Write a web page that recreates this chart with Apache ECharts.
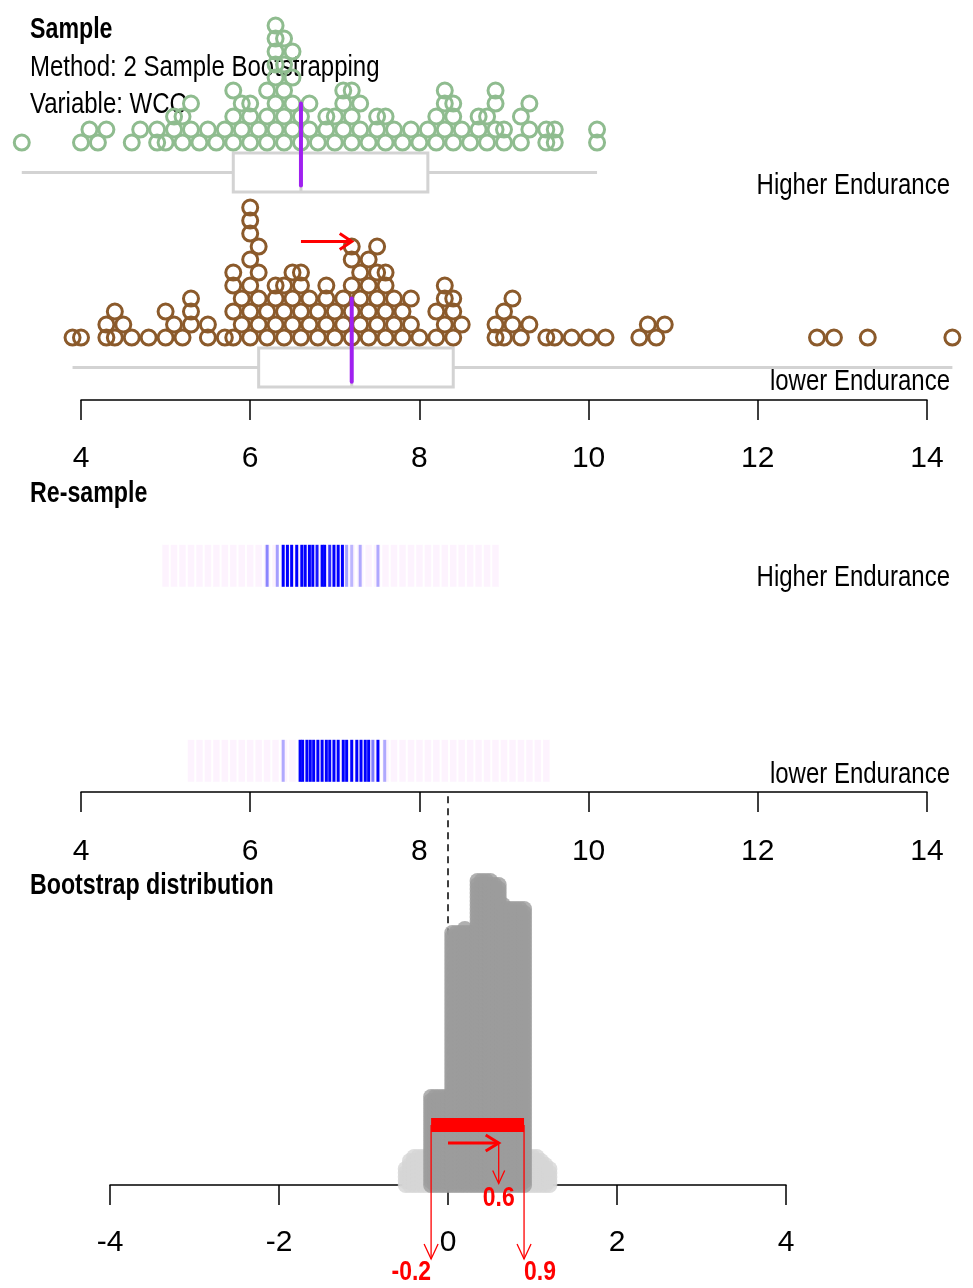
<!DOCTYPE html>
<html>
<head>
<meta charset="utf-8">
<script src="https://cdn.jsdelivr.net/npm/echarts@6/dist/echarts.min.js"></script>
<style>
  html, body { margin: 0; padding: 0; background: #fff; }
  #chart { width: 973px; height: 1288px; }
</style>
</head>
<body>
<div id="chart"></div>
<script>
// ---------------- data ----------------
const groups = ['Higher Endurance', 'lower Endurance'];

// WCC observations for each group
const wccHigher = [
  3.3,
  4.0, 4.1, 4.2, 4.3,
  4.6, 4.7, 4.9, 4.9, 5.0,
  5.1, 5.1, 5.2, 5.2, 5.3, 5.3,
  5.4, 5.5, 5.6,
  5.7, 5.8, 5.8, 5.8, 5.9, 5.9, 6.0, 6.0, 6.0,
  6.1, 6.2, 6.2, 6.2, 6.3, 6.3, 6.3, 6.3, 6.3, 6.3, 6.3,
  6.4, 6.4, 6.4, 6.4, 6.4, 6.5, 6.5, 6.5, 6.5,
  6.6, 6.6, 6.7, 6.7, 6.8, 6.9, 6.9,
  7.0, 7.0, 7.1, 7.1, 7.1, 7.2, 7.2, 7.2, 7.3, 7.3,
  7.4, 7.5, 7.5, 7.6, 7.6, 7.7,
  7.8, 7.9, 8.0,
  8.1, 8.2, 8.2, 8.3, 8.3, 8.3, 8.4, 8.4, 8.4,
  8.5, 8.6, 8.7, 8.7,
  8.8, 8.8, 8.9, 8.9, 8.9, 9.0, 9.0,
  9.2, 9.2, 9.3, 9.3,
  9.5, 9.5, 9.6, 9.6,
  10.1, 10.1
];
const wccLower = [
  3.9, 4.0,
  4.3, 4.3, 4.4, 4.4, 4.5, 4.6,
  4.8,
  5.0, 5.0, 5.1, 5.2,
  5.3, 5.3, 5.3,
  5.5, 5.5, 5.7,
  5.8, 5.8, 5.8, 5.8, 5.9, 5.9,
  6.0, 6.0, 6.0, 6.0, 6.0, 6.0, 6.0, 6.1, 6.1, 6.1, 6.1,
  6.2, 6.2, 6.3, 6.3, 6.3, 6.4, 6.4, 6.4,
  6.5, 6.5, 6.5, 6.6, 6.6, 6.6, 6.6, 6.7, 6.7,
  6.8, 6.8, 6.9, 6.9, 6.9, 7.0, 7.0,
  7.1, 7.1, 7.2, 7.2, 7.2, 7.2, 7.2, 7.3, 7.3, 7.3,
  7.4, 7.4, 7.4, 7.4, 7.5, 7.5, 7.5, 7.5, 7.6, 7.6, 7.6, 7.6, 7.7,
  7.7, 7.8, 7.8, 7.9, 7.9, 8.0,
  8.2, 8.2, 8.3, 8.3, 8.3, 8.4, 8.4, 8.4, 8.5,
  8.9, 8.9, 9.0, 9.0, 9.1, 9.1, 9.2,
  9.3, 9.5, 9.6, 9.8, 10.0, 10.2,
  10.6, 10.7, 10.8, 10.9,
  12.7, 12.9, 13.3, 14.3
];

// five-number summaries: [min, Q1, median, Q3, max]
const boxHigher = [3.3, 5.8, 6.6, 8.1, 10.1];
const boxLower  = [3.9, 6.1, 7.2, 8.4, 14.3];

// re-sample medians and their shading (how often they recur)
const resampleHigherStat  = [6.20, 6.32, 6.39, 6.44, 6.49, 6.55, 6.61, 6.65, 6.70, 6.74, 6.79, 6.85, 6.88, 6.94, 6.99, 7.04, 7.09, 7.14, 7.20, 7.30, 7.51];
const resampleHigherShade = [0.45, 0.35, 1, 1, 1, 1, 1, 1, 1, 1, 0.9, 1, 1, 0.8, 1, 1, 1, 0.35, 0.25, 0.3, 0.3];
const resampleLowerStat   = [6.39, 6.59, 6.62, 6.67, 6.71, 6.75, 6.80, 6.85, 6.90, 6.94, 6.99, 7.04, 7.10, 7.14, 7.20, 7.26, 7.31, 7.36, 7.40, 7.45, 7.51, 7.59];
const resampleLowerShade  = [0.3, 1, 1, 1, 1, 1, 1, 1, 1, 1, 1, 1, 1, 1, 1, 1, 1, 1, 1, 0.5, 1, 0.3];
// observation values drawn into the current re-samples (faint)
const resampleHigherDrawn = [5.0, 5.1, 5.2, 5.3, 5.4, 5.5, 5.6, 5.7, 5.8, 5.9, 6.0, 6.1, 6.2, 6.3, 6.4, 6.5,
  6.6, 6.7, 6.8, 6.9, 7.0, 7.1, 7.2, 7.3, 7.4, 7.5, 7.6, 7.7, 7.8, 7.9, 8.0, 8.1, 8.2, 8.3, 8.4, 8.5, 8.6, 8.7, 8.8, 8.9];
const resampleLowerDrawn = [5.3, 5.4, 5.5, 5.6, 5.7, 5.8, 5.9, 6.0, 6.1, 6.2, 6.3, 6.4, 6.5, 6.6, 6.7, 6.8,
  6.9, 7.0, 7.1, 7.2, 7.3, 7.4, 7.5, 7.6, 7.7, 7.8, 7.9, 8.0, 8.1, 8.2, 8.3, 8.4, 8.5, 8.6, 8.7, 8.8, 8.9,
  9.0, 9.1, 9.2, 9.3, 9.4, 9.5];

// bootstrap distribution of the difference in medians
const bootBins   = [-0.50, -0.45, -0.40, -0.35, -0.30, -0.25,
                    -0.20, -0.15, -0.10, -0.05, 0.00,
                     0.05, 0.10, 0.15, 0.20, 0.25, 0.30,
                     0.35, 0.40, 0.45, 0.50, 0.55, 0.60,
                     0.65, 0.70, 0.75, 0.80, 0.85, 0.90,
                     0.95, 1.00, 1.05, 1.10, 1.15, 1.20];
const bootCounts = [5, 7, 8, 8, 8, 8,
                    23, 23, 23, 23, 23,
                    64, 64, 64, 65, 64, 64,
                    77, 77, 77, 77, 76, 76,
                    71, 70, 70, 70, 70, 70,
                    8, 8, 8, 7, 6, 5];
const observedDiff = 0.6;
const bootCI = [-0.2, 0.9];

// axis ticks
const sampleTicks = [4, 6, 8, 10, 12, 14];
const bootTicks   = [-4, -2, 0, 2, 4];

// ---------------- layout ----------------
const FONT = "'Liberation Sans', Arial, sans-serif";
const NARROW = 0.8;            // horizontal squeeze of annotation text
const COL_HIGH = '#8fbc8f';
const COL_LOW = '#8b5a2b';
const COL_BOX = '#d3d3d3';
const COL_MED = '#a020f0';

// sample panel: y measured in dot rows (13 px each)
const SAMPLE_ROWS = 400 / 13;
const rowsHigh = { dots: 19.8, box: 17.5, med: [16.5, 22.8] };
const rowsLow  = { dots: 4.8,  box: 2.5,  med: [1.4, 7.8] };
const BOX_HALF = 1.5;
const DIFF_ROW = 12.2;

// re-sample panel: 0..10 units
const RES_HIGH = 5.8, RES_LOW = 0.8;

// bootstrap panel: dot rows of 4 px
const BOOT_ROWS = 315 / 4;

// Stack observations in bins two tenths wide; inside a bin the distinct
// values take turns, so each column zig-zags instead of leaning.
function stackDots(values, base) {
  const bins = {};
  values.forEach(v => {
    const t = Math.round(v * 10);
    const b = Math.floor(t / 2);
    (bins[b] = bins[b] || {});
    (bins[b][t] = bins[b][t] || []).push(v);
  });
  const out = [];
  Object.keys(bins).forEach(b => {
    const cols = Object.keys(bins[b]).sort((a, c) => a - c).map(t => bins[b][t]);
    const order = [];
    const longest = Math.max(...cols.map(c => c.length));
    for (let i = 0; i < longest; i++) cols.forEach(c => { if (i < c.length) order.push(c[i]); });
    order.forEach((v, k) => out.push([v, base + k]));
  });
  return out;
}

function bootDots(inside) {
  const pts = [];
  bootBins.forEach((b, i) => {
    const isIn = b >= bootCI[0] - 1e-9 && b <= bootCI[1] + 1e-9;
    if (isIn !== inside) return;
    for (let k = 0; k < bootCounts[i]; k++) pts.push([b, k]);
  });
  return pts;
}

function arrow(p0, p1, head, spread, style) {
  const dx = p1[0] - p0[0], dy = p1[1] - p0[1];
  const len = Math.hypot(dx, dy) || 1;
  const ux = dx / len, uy = dy / len, nx = -uy, ny = ux;
  const bx = p1[0] - ux * head, by = p1[1] - uy * head;
  return [
    { type: 'line', shape: { x1: p0[0], y1: p0[1], x2: p1[0], y2: p1[1] }, style },
    { type: 'polyline', shape: { points: [[bx + nx * spread, by + ny * spread], [p1[0], p1[1]], [bx - nx * spread, by - ny * spread]] }, style }
  ];
}

function axisX(gridIndex, ticks, margin) {
  return {
    gridIndex, type: 'value',
    min: ticks[0], max: ticks[ticks.length - 1], interval: ticks[1] - ticks[0],
    axisLine: { show: true, onZero: false, lineStyle: { color: '#000', width: 1.5 } },
    axisTick: { show: true, length: 20, lineStyle: { color: '#000', width: 1.5 } },
    axisLabel: { margin, fontSize: 30, color: '#000', fontFamily: FONT },
    splitLine: { show: false }
  };
}
function axisY(gridIndex, max) {
  return { gridIndex, type: 'value', min: 0, max, show: false, splitLine: { show: false } };
}

const chart = echarts.init(document.getElementById('chart'), null, { renderer: 'canvas' });

function label(text, x, y, size, bold, align) {
  return {
    type: 'text', x, y, z: 1, scaleX: NARROW,
    style: { text, align: align || 'left', verticalAlign: 'middle', fontSize: size, fontFamily: FONT,
             fontWeight: bold ? 'bold' : 'normal', fill: '#000' }
  };
}

const option = {
  animation: false,
  backgroundColor: '#fff',
  grid: [
    { left: 81, right: 46, top: 0, height: 400 },
    { left: 81, right: 46, top: 402, height: 390 },
    { left: 110, right: 187, top: 870, height: 315 }
  ],
  xAxis: [axisX(0, sampleTicks, 44), axisX(1, sampleTicks, 45), axisX(2, bootTicks, 43)],
  yAxis: [axisY(0, SAMPLE_ROWS), axisY(1, 10), axisY(2, BOOT_ROWS)],
  graphic: [
    label('Sample', 30, 30, 29, true),
    label('Method: 2 Sample Bootstrapping', 30, 68, 30, false),
    label('Variable: WCC', 30, 105, 30, false),
    label(groups[0], 950, 186, 30, false, 'right'),
    label(groups[1], 950, 382, 30, false, 'right'),
    label('Re-sample', 30, 494, 29, true),
    label(groups[0], 950, 578, 30, false, 'right'),
    label(groups[1], 950, 775, 30, false, 'right'),
    label('Bootstrap distribution', 30, 886, 29, true)
  ],
  series: [
    // box plots
    {
      type: 'custom', xAxisIndex: 0, yAxisIndex: 0, z: 2, silent: true,
      data: [[...boxHigher, rowsHigh.box], [...boxLower, rowsLow.box]],
      renderItem(params, api) {
        const s = [0, 1, 2, 3, 4].map(i => api.value(i));
        const yc = api.value(5);
        const c = (x, y) => api.coord([x, y]);
        const style = { stroke: COL_BOX, lineWidth: 3, fill: null };
        const tl = c(s[1], yc + BOX_HALF), br = c(s[3], yc - BOX_HALF);
        const w0 = c(s[0], yc), w1 = c(s[1], yc), w3 = c(s[3], yc), w4 = c(s[4], yc);
        const m0 = c(s[2], yc + BOX_HALF), m1 = c(s[2], yc - BOX_HALF);
        return { type: 'group', children: [
          { type: 'line', shape: { x1: w0[0], y1: w0[1], x2: w1[0], y2: w1[1] }, style },
          { type: 'line', shape: { x1: w3[0], y1: w3[1], x2: w4[0], y2: w4[1] }, style },
          { type: 'rect', shape: { x: tl[0], y: tl[1], width: br[0] - tl[0], height: br[1] - tl[1] }, style },
          { type: 'line', shape: { x1: m0[0], y1: m0[1], x2: m1[0], y2: m1[1] }, style }
        ] };
      }
    },
    // sample dots
    {
      type: 'scatter', xAxisIndex: 0, yAxisIndex: 0, z: 3, silent: true, clip: false,
      symbol: 'circle', symbolSize: 15,
      itemStyle: { color: 'rgba(255,255,255,0)', borderColor: COL_HIGH, borderWidth: 3, opacity: 1 },
      data: stackDots(wccHigher, rowsHigh.dots)
    },
    {
      type: 'scatter', xAxisIndex: 0, yAxisIndex: 0, z: 3, silent: true, clip: false,
      symbol: 'circle', symbolSize: 15,
      itemStyle: { color: 'rgba(255,255,255,0)', borderColor: COL_LOW, borderWidth: 3, opacity: 1 },
      data: stackDots(wccLower, rowsLow.dots)
    },
    // group medians and the difference arrow
    {
      type: 'custom', xAxisIndex: 0, yAxisIndex: 0, z: 4, silent: true,
      data: [[boxHigher[2], boxLower[2]]],
      renderItem(params, api) {
        const mh = api.value(0), ml = api.value(1);
        const c = (x, y) => api.coord([x, y]);
        const pst = { stroke: COL_MED, lineWidth: 4, lineCap: 'round' };
        const h0 = c(mh, rowsHigh.med[0]), h1 = c(mh, rowsHigh.med[1]);
        const l0 = c(ml, rowsLow.med[0]), l1 = c(ml, rowsLow.med[1]);
        return { type: 'group', children: [
          { type: 'line', shape: { x1: h0[0], y1: h0[1], x2: h1[0], y2: h1[1] }, style: pst },
          { type: 'line', shape: { x1: l0[0], y1: l0[1], x2: l1[0], y2: l1[1] }, style: pst },
          ...arrow(c(mh, DIFF_ROW), c(ml, DIFF_ROW), 12, 8, { stroke: '#ff0000', lineWidth: 3, fill: null })
        ] };
      }
    },
    // re-sample: faint spread of drawn observations
    {
      type: 'scatter', xAxisIndex: 1, yAxisIndex: 1, z: 2, silent: true, clip: false,
      symbol: 'rect', symbolSize: [6.5, 42],
      itemStyle: { color: '#fcf0fe' },
      data: resampleHigherDrawn.map(v => [v, RES_HIGH])
    },
    {
      type: 'scatter', xAxisIndex: 1, yAxisIndex: 1, z: 2, silent: true, clip: false,
      symbol: 'rect', symbolSize: [6.5, 42],
      itemStyle: { color: '#fcf0fe' },
      data: resampleLowerDrawn.map(v => [v, RES_LOW])
    },
    // re-sample medians
    {
      type: 'scatter', xAxisIndex: 1, yAxisIndex: 1, z: 3, silent: true, clip: false,
      symbol: 'rect', symbolSize: [3, 42],
      data: resampleHigherStat.map((v, i) => ({ value: [v, RES_HIGH], itemStyle: { color: '#0000ff', opacity: resampleHigherShade[i] } }))
    },
    {
      type: 'scatter', xAxisIndex: 1, yAxisIndex: 1, z: 3, silent: true, clip: false,
      symbol: 'rect', symbolSize: [3, 42],
      data: resampleLowerStat.map((v, i) => ({ value: [v, RES_LOW], itemStyle: { color: '#0000ff', opacity: resampleLowerShade[i] } }))
    },
    // zero reference line of the bootstrap distribution
    {
      type: 'custom', xAxisIndex: 2, yAxisIndex: 2, z: 1, silent: true,
      data: [[0]],
      renderItem(params, api) {
        const top = api.coord([api.value(0), 97.2]), bot = api.coord([api.value(0), 0]);
        return { type: 'line', shape: { x1: top[0], y1: top[1], x2: bot[0], y2: bot[1] },
                 style: { stroke: '#000', lineWidth: 1.5, lineDash: [7, 5] } };
      }
    },
    // bootstrap dots outside / inside the interval
    {
      type: 'scatter', xAxisIndex: 2, yAxisIndex: 2, z: 2, silent: true, clip: false,
      symbol: 'circle', symbolSize: 16, itemStyle: { color: '#d6d6d6' },
      data: bootDots(false)
    },
    {
      type: 'scatter', xAxisIndex: 2, yAxisIndex: 2, z: 3, silent: true, clip: false,
      symbol: 'circle', symbolSize: 16, itemStyle: { color: '#9c9c9c' },
      data: bootDots(true)
    },
    // confidence interval, observed difference and labels
    {
      type: 'custom', xAxisIndex: 2, yAxisIndex: 2, z: 5, silent: true,
      data: [[bootCI[0], bootCI[1], observedDiff]],
      renderItem(params, api) {
        const lo = api.value(0), hi = api.value(1), d = api.value(2);
        const c = (x, y) => api.coord([x, y]);
        const red = '#ff0000';
        const thin = { stroke: red, lineWidth: 1.3, fill: null };
        const thick = { stroke: red, lineWidth: 3, fill: null };
        const barTL = c(lo, 16.75), barBR = c(hi, 13.25);
        const lbl = (text, p, align) => ({
          type: 'text', x: p[0], y: p[1], scaleX: 0.85,
          style: { text, fill: red, fontSize: 27, fontWeight: 'bold', fontFamily: FONT, align, verticalAlign: 'middle' }
        });
        return { type: 'group', children: [
          { type: 'rect', shape: { x: barTL[0], y: barTL[1], width: barBR[0] - barTL[0], height: barBR[1] - barTL[1] }, style: { fill: red } },
          ...arrow(c(lo, 15), c(lo, -18.5), 15, 7, thin),
          ...arrow(c(hi, 15), c(hi, -18.5), 15, 7, thin),
          ...arrow(c(0, 10.5), c(d, 10.5), 13, 8, thick),
          ...arrow(c(d, 10.5), c(d, 0.4), 13, 6, thin),
          lbl(lo.toFixed(1), c(lo, -22), 'right'),
          lbl(hi.toFixed(1), c(hi, -22), 'left'),
          lbl(d.toFixed(1), c(d, -3.3), 'center')
        ] };
      }
    }
  ]
};

chart.setOption(option);
</script>
</body>
</html>
